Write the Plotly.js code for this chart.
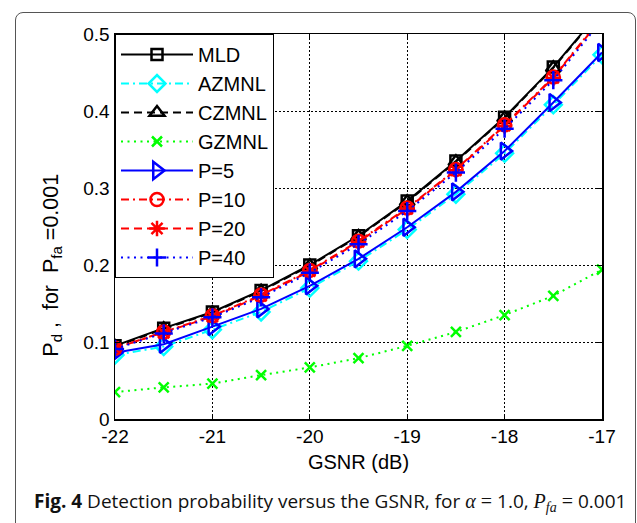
<!DOCTYPE html>
<html>
<head>
<meta charset="utf-8">
<script src="https://cdn.plot.ly/plotly-3.0.1.min.js"></script>
<style>
  html, body { margin: 0; padding: 0; background: #fff; }
  #wrap { position: relative; width: 637px; height: 523px; overflow: hidden; }
  #chart { position: absolute; left: 0; top: 0; width: 637px; height: 523px; }
  #frame { position: absolute; left: 15px; top: 12px; width: 619px; height: 620px;
           border: 1px solid #555; border-radius: 8px; pointer-events: none; }
</style>
</head>
<body>
<div id="wrap">
  <div id="chart"></div>
  <div id="frame"></div>
</div>
<script>
// ---- data ----
var gsnr  = [-22, -21.5, -21, -20.5, -20, -19.5, -19, -18.5, -18, -17.5, -17];
var mld   = [0.095, 0.118, 0.139, 0.167, 0.200, 0.238, 0.283, 0.335, 0.392, 0.457, 0.532];
var azmnl = [0.083, 0.094, 0.116, 0.139, 0.170, 0.205, 0.246, 0.292, 0.345, 0.408, 0.473];
var czmnl = [0.094, 0.117, 0.138, 0.166, 0.199, 0.237, 0.282, 0.334, 0.391, 0.456, 0.531];
var gzmnl = [0.035, 0.041, 0.046, 0.057, 0.067, 0.079, 0.095, 0.113, 0.135, 0.160, 0.194];
var p5    = [0.086, 0.097, 0.120, 0.143, 0.173, 0.208, 0.249, 0.295, 0.348, 0.411, 0.476];
var p10   = [0.092, 0.113, 0.134, 0.161, 0.193, 0.231, 0.274, 0.324, 0.382, 0.444, 0.522];
var p20   = [0.092, 0.112, 0.133, 0.160, 0.192, 0.230, 0.273, 0.323, 0.381, 0.443, 0.521];
var p40   = [0.091, 0.111, 0.132, 0.158, 0.190, 0.227, 0.270, 0.320, 0.377, 0.440, 0.518];

var xTicks = [-22, -21, -20, -19, -18, -17];
var xTickLabels = ['-22', '-21', '-20', '-19', '-18', '-17'];
var yTicks = [0, 0.1, 0.2, 0.3, 0.4, 0.5];
var yTickLabels = ['0', '0.1', '0.2', '0.3', '0.4', '0.5'];

var seriesNames = ['MLD', 'AZMNL', 'CZMNL', 'GZMNL', 'P=5', 'P=10', 'P=20', 'P=40'];
var seriesData  = [mld, azmnl, czmnl, gzmnl, p5, p10, p20, p40];

// ---- styles ----
var styles = [
  {color: '#000000', dash: 'solid',            symbol: 'square-open',        size: 11},
  {color: '#00FFFF', dash: '8px,4px,2px,4px',  symbol: 'diamond-open',       size: 13},
  {color: '#000000', dash: '8px,5px',          symbol: 'triangle-up-open',   size: 13},
  {color: '#00FF00', dash: '2px,4.5px',        symbol: 'x-thin-open',        size: 10},
  {color: '#0000FF', dash: 'solid',            symbol: 'triangle-right-open',size: 15},
  {color: '#FF0000', dash: '8px,4px,2px,4px',  symbol: 'circle-open',        size: 13},
  {color: '#FF0000', dash: '8px,5px',          symbol: 'asterisk-open',      size: 13},
  {color: '#0000FF', dash: '2px,4.5px',        symbol: 'cross-thin-open',    size: 13}
];

var traces = seriesNames.map(function (name, i) {
  var s = styles[i];
  return {
    type: 'scatter',
    mode: 'lines+markers',
    name: name,
    x: gsnr,
    y: seriesData[i],
    line: {color: s.color, width: 2, dash: s.dash},
    marker: {symbol: s.symbol, size: s.size, color: s.color,
             line: {color: s.color, width: 2.5}},
    cliponaxis: true
  };
});

var FONT = '"Liberation Sans", Arial, Helvetica, sans-serif';
var SERIF = '\'Liberation Serif\', serif';

var layout = {
  width: 637,
  height: 523,
  margin: {l: 115, r: 35, t: 34, b: 104},
  paper_bgcolor: 'rgba(0,0,0,0)',
  plot_bgcolor: '#ffffff',
  font: {family: FONT, size: 19, color: '#000'},
  showlegend: true,
  legend: {
    x: 0, y: 1, xanchor: 'left', yanchor: 'top',
    bgcolor: '#ffffff', bordercolor: '#000000', borderwidth: 1,
    font: {family: FONT, size: 20, color: '#000'},
    itemwidth: 72,
    traceorder: 'normal'
  },
  xaxis: {
    range: [-22, -17],
    tickmode: 'array', tickvals: xTicks, ticktext: xTickLabels,
    ticks: 'inside', ticklen: 5, tickwidth: 1, tickcolor: '#000',
    showline: true, linecolor: '#000', linewidth: 1.5, mirror: 'ticks',
    showgrid: true, gridcolor: '#000', gridwidth: 1, griddash: '2px,2px',
    zeroline: false,
    tickfont: {family: FONT, size: 19, color: '#000'},
    title: {text: 'GSNR (dB)', font: {family: FONT, size: 20, color: '#000'}, standoff: 8}
  },
  yaxis: {
    range: [0, 0.5],
    tickmode: 'array', tickvals: yTicks, ticktext: yTickLabels,
    ticks: 'inside', ticklen: 5, tickwidth: 1, tickcolor: '#000',
    showline: true, linecolor: '#000', linewidth: 1.5, mirror: 'ticks',
    showgrid: true, gridcolor: '#000', gridwidth: 1, griddash: '2px,2px',
    zeroline: false,
    tickfont: {family: FONT, size: 19, color: '#000'}
  },
  annotations: [
    {
      xref: 'paper', yref: 'paper',
      x: -0.130, y: 0.40, xanchor: 'center', yanchor: 'middle',
      textangle: -90, showarrow: false,
      text: 'P<sub>d</sub> ,  for  P<sub>fa</sub> =0.001',
      font: {family: FONT, size: 21.5, color: '#000'}
    },
    {
      xref: 'paper', yref: 'paper',
      x: -0.170, y: -0.214, xanchor: 'left', yanchor: 'middle',
      showarrow: false,
      text: '<b>Fig. 4</b> Detection probability versus the GSNR, for ' +
            '<span style="font-family:' + SERIF + ';font-size:20px"><i>α</i> = </span>1.0, ' +
            '<span style="font-family:' + SERIF + ';font-size:20px"><i>P<sub>fa</sub></i> = </span>0.001',
      font: {family: '"Open Sans", "Noto Sans", sans-serif', size: 19, color: '#111'}
    }
  ]
};

Plotly.newPlot('chart', traces, layout, {displayModeBar: false, staticPlot: true});
</script>
</body>
</html>
